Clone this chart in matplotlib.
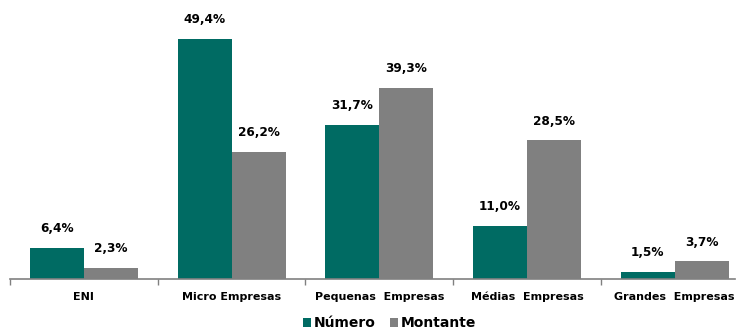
import matplotlib.pyplot as plt
import numpy as np

categories = ["ENI", "Micro Empresas", "Pequenas  Empresas", "Médias  Empresas", "Grandes  Empresas"]
numero = [6.4, 49.4, 31.7, 11.0, 1.5]
montante = [2.3, 26.2, 39.3, 28.5, 3.7]

TEAL = "#006b63"
GREY = "#808080"

plt.rcParams["font.family"] = ["Verdana", "DejaVu Sans"]

fig = plt.figure(figsize=(7.38, 3.29), dpi=100)
ax = fig.add_axes([10 / 738, 50 / 329, 725 / 738, 279 / 329])

group_px = 147.7
x = np.arange(len(categories))
w = 54 / group_px
b1 = ax.bar(x - w / 2, numero, w, color=TEAL, label="Número")
b2 = ax.bar(x + w / 2, montante, w, color=GREY, label="Montante")

for bars, vals in ((b1, numero), (b2, montante)):
    for rect, v in zip(bars, vals):
        ax.annotate(f"{v:.1f}%".replace(".", ","),
                    (rect.get_x() + rect.get_width() / 2, v),
                    xytext=(0, 9), textcoords="offset points",
                    ha="center", va="bottom", fontsize=8.7, fontweight="bold")

ax.set_xlim(-0.5, -0.5 + 725 / group_px)
ax.set_ylim(0, 57.4)
ax.set_yticks([])
for s in ("top", "right", "left"):
    ax.spines[s].set_visible(False)
ax.spines["bottom"].set_color("#808080")
ax.spines["bottom"].set_linewidth(1.2)

ax.set_xticks(np.arange(len(categories)) - 0.5, minor=False)
ax.set_xticklabels([])
ax.tick_params(axis="x", which="major", direction="out", length=4, color="#808080", width=1)
ax.set_xticks(x, minor=True)
ax.set_xticklabels(categories, minor=True, fontsize=8, fontweight="bold")
ax.tick_params(axis="x", which="minor", length=0, pad=9)

fig.legend(loc="center", bbox_to_anchor=(389.5 / 738, 6 / 329), ncol=2, frameon=False,
           prop={"size": 10, "weight": "bold"}, handlelength=0.6, handleheight=0.6,
           handletextpad=0.2, columnspacing=1.0)

fig.savefig("out.png", dpi=100)
